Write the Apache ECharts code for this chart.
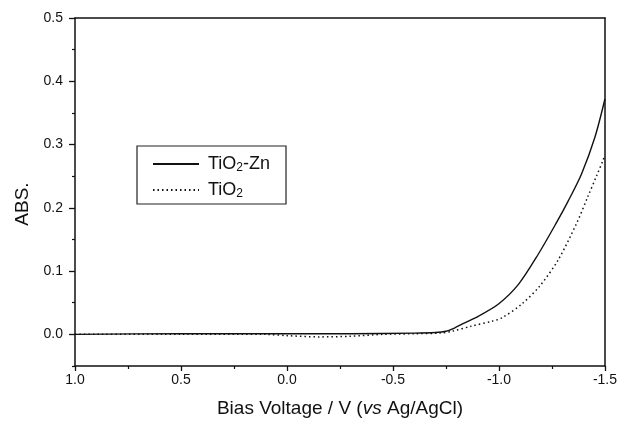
<!DOCTYPE html>
<html>
<head>
<meta charset="utf-8">
<script src="https://cdn.jsdelivr.net/npm/echarts@6/dist/echarts.min.js"></script>
<style>html,body{margin:0;padding:0;background:#fff}#c{width:620px;height:426px}</style>
</head>
<body>
<div id="c"></div>
<script>
// Data
var seriesNames = ['TiO2-Zn', 'TiO2'];
var znVoltage = [1.0, 0.5, 0.0, -0.3, -0.6, -0.70, -0.75, -0.79, -0.83, -0.904, -0.998, -1.092, -1.186, -1.272, -1.327, -1.39, -1.453, -1.50];
var znAbs     = [0.0, 0.001, 0.001, 0.001, 0.002, 0.003, 0.005, 0.010, 0.017, 0.029, 0.048, 0.079, 0.127, 0.177, 0.211, 0.254, 0.312, 0.372];
var tiVoltage = [1.0, 0.5, 0.1, 0.0, -0.15, -0.3, -0.45, -0.6, -0.72, -0.78, -0.87, -0.97, -1.014, -1.108, -1.194, -1.28, -1.367, -1.421, -1.46, -1.492, -1.50];
var tiAbs     = [0.0, 0.0, 0.0, -0.002, -0.004, -0.003, 0.0, 0.001, 0.002, 0.005, 0.013, 0.021, 0.026, 0.048, 0.077, 0.118, 0.176, 0.219, 0.250, 0.276, 0.283];
var yMajorTicks = [0, 0.1, 0.2, 0.3, 0.4, 0.5];
var yMinorTicks = [-0.05, 0.05, 0.15, 0.25, 0.35, 0.45];

function pairs(xs, ys) { return xs.map(function (x, i) { return [x, ys[i]]; }); }

var font = 'Liberation Sans, Arial, sans-serif';
var chart = echarts.init(document.getElementById('c'), null, { renderer: 'canvas' });
chart.setOption({
  backgroundColor: '#fff',
  animation: false,
  grid: { left: 75, right: 12, top: 18, bottom: 60 },
  legend: {
    left: 137, top: 146,
    orient: 'vertical',
    backgroundColor: '#fff',
    borderColor: '#222', borderWidth: 1.2, borderRadius: 0,
    padding: [8, 16, 4, 15],
    itemWidth: 46, itemHeight: 14, itemGap: 6,
    itemStyle: { opacity: 0 },
    formatter: function (n) { return n === 'TiO2-Zn' ? 'TiO{s|2}-Zn' : 'TiO{s|2}'; },
    textStyle: {
      fontFamily: font, fontSize: 18, color: '#111', lineHeight: 20, padding: [0, 0, 0, 4],
      rich: { s: { fontFamily: font, fontSize: 12, color: '#111', verticalAlign: 'bottom', padding: [12, 0, 0, 0] } }
    },
    data: seriesNames
  },
  xAxis: [{
    type: 'value', inverse: true, min: -1.5, max: 1.0, interval: 0.5,
    name: 'Bias Voltage / V ({i|vs} Ag/AgCl)', nameLocation: 'middle', nameGap: 33,
    nameTextStyle: { fontFamily: font, fontSize: 19, color: '#111',
      rich: { i: { fontFamily: font, fontSize: 19, fontStyle: 'italic', color: '#111' } } },
    axisLine: { show: true, onZero: false, lineStyle: { color: '#111', width: 1.5 } },
    axisTick: { show: true, length: 5, lineStyle: { color: '#111', width: 1.3 } },
    minorTick: { show: true, splitNumber: 2, length: 3, lineStyle: { color: '#111', width: 1.2 } },
    axisLabel: { fontFamily: font, fontSize: 14, color: '#111', margin: 7,
      formatter: function (v) { return v.toFixed(1); } },
    splitLine: { show: false }
  }, {
    type: 'value', inverse: true, min: -1.5, max: 1.0, position: 'top',
    axisLine: { show: true, onZero: false, lineStyle: { color: '#111', width: 1.5 } },
    axisTick: { show: false }, axisLabel: { show: false }, splitLine: { show: false }
  }],
  yAxis: [{
    type: 'value', min: -0.05, max: 0.5,
    name: 'ABS.', nameLocation: 'middle', nameGap: 38,
    nameTextStyle: { fontFamily: font, fontSize: 19, color: '#111', padding: [0, 24, 0, 0] },
    axisLine: { show: true, onZero: false, lineStyle: { color: '#111', width: 1.5 } },
    axisTick: { show: true, length: 6, customValues: yMajorTicks, lineStyle: { color: '#111', width: 1.3 } },
    axisLabel: { fontFamily: font, fontSize: 14, color: '#111', margin: 12, customValues: yMajorTicks,
      formatter: function (v) { return v.toFixed(1); } },
    splitLine: { show: false }
  }, {
    type: 'value', min: -0.05, max: 0.5, position: 'left',
    axisLine: { show: false, onZero: false },
    axisTick: { show: true, length: 3, customValues: yMinorTicks, lineStyle: { color: '#111', width: 1.2 } },
    axisLabel: { show: false, customValues: yMinorTicks }, splitLine: { show: false }
  }, {
    type: 'value', min: -0.05, max: 0.5, position: 'right',
    axisLine: { show: true, onZero: false, lineStyle: { color: '#111', width: 1.5 } },
    axisTick: { show: false }, axisLabel: { show: false }, splitLine: { show: false }
  }],
  series: [{
    name: seriesNames[0], type: 'line', smooth: 0.3, symbol: 'none',
    xAxisIndex: 0, yAxisIndex: 0,
    lineStyle: { color: '#111', width: 1.4, type: 'solid' },
    itemStyle: { color: '#111' },
    data: pairs(znVoltage, znAbs), z: 3
  }, {
    name: seriesNames[1], type: 'line', smooth: 0.3, symbol: 'none',
    xAxisIndex: 0, yAxisIndex: 0,
    lineStyle: { color: '#111', width: 1.5, type: [1.5, 3] },
    itemStyle: { color: '#111' },
    data: pairs(tiVoltage, tiAbs), z: 2
  }]
});
</script>
</body>
</html>
